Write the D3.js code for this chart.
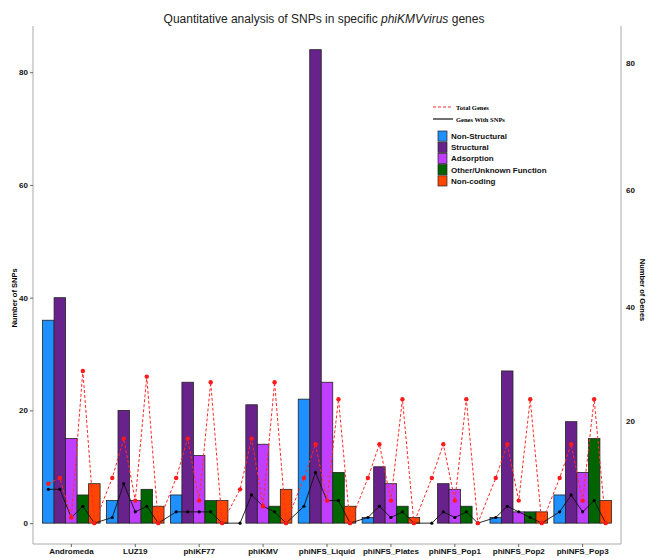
<!DOCTYPE html>
<html>
<head>
<meta charset="utf-8">
<script src="https://cdn.jsdelivr.net/npm/d3@7"></script>
<style>
  body { margin: 0; background: #fff; }
  svg { display: block; font-family: "Liberation Sans", Arial, sans-serif; }
</style>
</head>
<body>
<svg id="canvas"></svg>
<script>
/** Main values */
const genomes = ['Andromeda', 'LUZ19', 'phiKF77', 'phiKMV', 'phiNFS_Liquid', 'phiNFS_Plates', 'phiNFS_Pop1', 'phiNFS_Pop2', 'phiNFS_Pop3'];
const geneTypes = ['Non-Structural', 'Structural', 'Adsorption', 'Other/Unknown Function', 'Non-coding'];
const typeColors = ['#1E90FF', '#68228B', '#BF3EFF', '#006400', '#FF4500'];

// SNP counts per genome, one array per gene type
const nonStructural = [36, 4, 5, 0, 22, 1, 0, 1, 5];
const structural = [40, 20, 25, 21, 84, 10, 7, 27, 18];
const adsorption = [15, 4, 12, 14, 25, 7, 6, 2, 9];
const otherUnknown = [5, 6, 4, 3, 9, 3, 3, 2, 15];
const nonCoding = [7, 3, 4, 6, 3, 1, 0, 2, 4];

// line values, 5 per genome in gene type order
const totalGenes = [
  7, 8, 1, 27, 0,
  8, 15, 4, 26, 0,
  8, 15, 4, 25, 0,
  6, 15, 3, 25, 0,
  8, 14, 4, 22, 0,
  8, 14, 4, 22, 0,
  8, 14, 4, 22, 0,
  8, 14, 4, 22, 0,
  8, 14, 4, 22, 0
];
const genesWithSNPs = [
  6, 6, 1, 3, 0,
  1, 7, 2, 3, 0,
  2, 2, 2, 2, 0,
  0, 5, 3, 2, 0,
  3, 9, 4, 4, 0,
  1, 3, 1, 2, 0,
  0, 2, 1, 2, 0,
  1, 3, 2, 1, 0,
  2, 5, 2, 4, 0
];

const leftTicks = [0, 20, 40, 60, 80];
const rightTicks = [20, 40, 60, 80];
// where each right-axis label sits, in left-axis units
const rightTickAt = [18.1, 38.3, 59.2, 81.6];

let width = 648;
let height = 558;
let padLeft = 33, padRight = 621, padTop = 26, padBottom = 544;

let canvas = d3.select('#canvas').attr('width', width).attr('height', height);

const series = [nonStructural, structural, adsorption, otherUnknown, nonCoding];
const bars = [];
genomes.forEach((g, i) => {
  geneTypes.forEach((t, j) => {
    bars.push({ genome: g, type: t, value: series[j][i], color: typeColors[j] });
  });
});

/** Scales */
const x0 = d3.scaleBand().domain(genomes).range([padLeft, padRight]).paddingInner(0).paddingOuter(0.1);
const x1 = d3.scaleBand().domain(geneTypes).range([0, x0.bandwidth() * 0.9]);
const yScale = d3.scaleLinear().domain([-3.7, 88.2]).range([padBottom, padTop]);
const yRight = d3.scaleLinear().domain(rightTicks).range(rightTickAt.map(v => yScale(v)));

const barX = d => x0(d.genome) + x0.bandwidth() * 0.05 + x1(d.type);
const centerX = d => barX(d) + x1.bandwidth() / 2;

/** Title */
const title = canvas.append('text')
  .attr('x', 324).attr('y', 23)
  .attr('text-anchor', 'middle')
  .attr('font-size', 12).attr('fill', '#222');
title.append('tspan').text('Quantitative analysis of SNPs in specific ');
title.append('tspan').attr('font-style', 'italic').text('phiKMVvirus');
title.append('tspan').text(' genes');

/** Bars */
canvas.append('g').selectAll('rect')
  .data(bars)
  .enter()
  .append('rect')
  .attr('x', barX)
  .attr('width', x1.bandwidth())
  .attr('y', d => yScale(d.value))
  .attr('height', d => yScale(0) - yScale(d.value))
  .attr('fill', d => d.color)
  .attr('stroke', '#222')
  .attr('stroke-width', 0.8);

/** Lines */
const line = d3.line().x((v, i) => centerX(bars[i])).y(v => yScale(v));

canvas.append('path')
  .datum(genesWithSNPs)
  .attr('d', line)
  .attr('fill', 'none')
  .attr('stroke', '#111')
  .attr('stroke-width', 0.9);

canvas.append('g').selectAll('circle')
  .data(genesWithSNPs)
  .enter()
  .append('circle')
  .attr('cx', (v, i) => centerX(bars[i]))
  .attr('cy', v => yScale(v))
  .attr('r', 1.6)
  .attr('fill', '#000');

canvas.append('path')
  .datum(totalGenes)
  .attr('d', line)
  .attr('fill', 'none')
  .attr('stroke', '#ff2a2a')
  .attr('stroke-width', 1)
  .attr('stroke-dasharray', '3,2');

canvas.append('g').selectAll('circle')
  .data(totalGenes)
  .enter()
  .append('circle')
  .attr('cx', (v, i) => centerX(bars[i]))
  .attr('cy', v => yScale(v))
  .attr('r', 2.2)
  .attr('fill', '#ff1a1a');

/** Panel border */
canvas.append('path')
  .attr('d', `M${padLeft},${padTop}V${padBottom}H${padRight}V${padTop}`)
  .attr('fill', 'none')
  .attr('stroke', '#aaa')
  .attr('stroke-width', 1);

/** Axes */
const yAxis = d3.axisLeft(yScale).tickValues(leftTicks).tickSize(3).tickPadding(2);
const gy = canvas.append('g').attr('transform', `translate(${padLeft}, 0)`).call(yAxis);

const xAxis = d3.axisBottom(x0).tickSize(3).tickPadding(1);
const gx = canvas.append('g').attr('transform', `translate(0, ${padBottom})`).call(xAxis);

const yAxisRight = d3.axisRight(yRight).tickValues(rightTicks).tickSize(0).tickPadding(5);
const gr = canvas.append('g').attr('transform', `translate(${padRight}, 0)`).call(yAxisRight);

[gy, gx, gr].forEach(g => {
  g.select('.domain').remove();
  g.selectAll('line').attr('stroke', '#666');
  g.selectAll('text')
    .attr('font-family', '"Liberation Sans", Arial, sans-serif')
    .attr('font-size', 8)
    .attr('font-weight', 'bold')
    .attr('fill', '#111');
});

canvas.append('text')
  .attr('transform', 'translate(17, 298) rotate(-90)')
  .attr('text-anchor', 'middle')
  .attr('font-size', 7.5).attr('font-weight', 'bold')
  .text('Number of SNPs');

canvas.append('text')
  .attr('transform', 'translate(640, 290) rotate(90)')
  .attr('text-anchor', 'middle')
  .attr('font-size', 7.5).attr('font-weight', 'bold')
  .text('Number of Genes');

/** Legend */
const legend = canvas.append('g');
const lineKeys = [
  { label: 'Total Genes', color: '#ff2a2a', dash: '3,2' },
  { label: 'Genes With SNPs', color: '#111', dash: null }
];
lineKeys.forEach((k, i) => {
  const yy = 107 + i * 12;
  legend.append('line')
    .attr('x1', 433).attr('x2', 453).attr('y1', yy).attr('y2', yy)
    .attr('stroke', k.color).attr('stroke-width', 1.2)
    .attr('stroke-dasharray', k.dash);
  legend.append('text')
    .attr('x', 456).attr('y', yy + 2.5)
    .attr('font-family', '"Liberation Serif", "DejaVu Serif", serif')
    .attr('font-size', 6.5).attr('font-weight', 'bold')
    .text(k.label);
});

geneTypes.forEach((t, i) => {
  const yy = 131 + i * 11.2;
  legend.append('rect')
    .attr('x', 438).attr('y', yy).attr('width', 9).attr('height', 10.2)
    .attr('fill', typeColors[i]).attr('stroke', '#222').attr('stroke-width', 0.7);
  legend.append('text')
    .attr('x', 451).attr('y', yy + 8)
    .attr('font-size', 8).attr('font-weight', 'bold')
    .attr('fill', '#111')
    .text(t);
});
</script>
</body>
</html>
